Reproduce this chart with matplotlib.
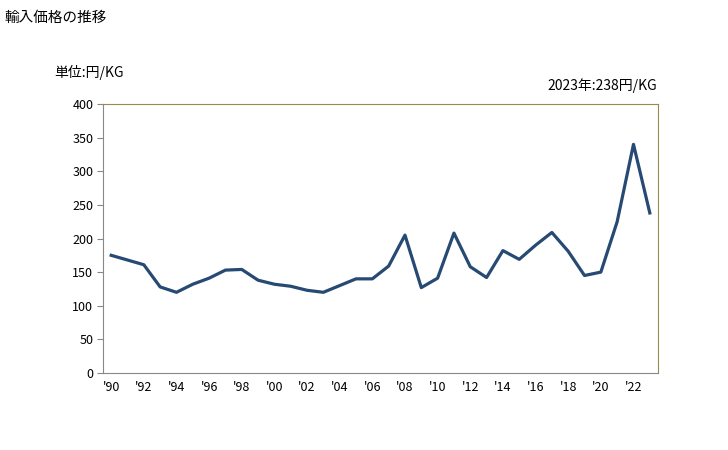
import matplotlib.pyplot as plt

plt.rcParams['font.family'] = ['Noto Sans CJK JP', 'DejaVu Sans']

years = list(range(1990, 2024))
prices = [175, 168, 161, 128, 120, 132, 141, 153, 154, 138,
          132, 129, 123, 120, 130, 140, 140, 159, 205, 127,
          141, 208, 158, 142, 182, 169, 190, 209, 181, 145,
          150, 225, 340, 238]
tick_years = years[::2]
tick_labels = ["'" + str(y)[2:] for y in tick_years]

fig = plt.figure(figsize=(7.28, 4.5), dpi=100)
ax = fig.add_axes([0.1415, 0.1711, 0.7623, 0.5978])

ax.plot(years, prices, color='#264a73', linewidth=2.3)

ax.set_xlim(1989.5, 2023.5)
ax.set_ylim(0, 400)
ax.set_yticks(range(0, 401, 50))
ax.set_xticks(tick_years)
ax.set_xticklabels(tick_labels)
ax.tick_params(axis='x', length=0, pad=6, labelsize=9)
ax.tick_params(axis='y', length=4, color='#888888', labelsize=9, pad=3)

for side in ['top', 'right']:
    ax.spines[side].set_color('#9b8b4a')
for side in ['left', 'bottom']:
    ax.spines[side].set_color('#888888')

fig.text(0.006, 0.975, '輸入価格の推移', fontsize=10.5, va='top')
fig.text(0.074, 0.838, '単位:円/KG', fontsize=10, va='center')
fig.text(0.903, 0.81, '2023年:238円/KG', fontsize=10, va='center', ha='right')

fig.savefig('out.png', dpi=100)
